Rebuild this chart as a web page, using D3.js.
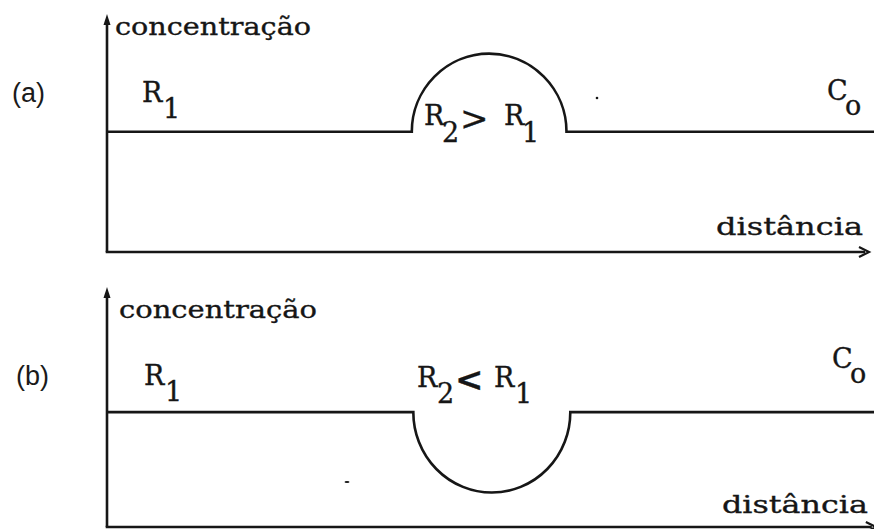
<!DOCTYPE html>
<html>
<head>
<meta charset="utf-8">
<script src="https://cdn.jsdelivr.net/npm/d3@7"></script>
<style>
  html, body { margin: 0; padding: 0; background: #fff; }
  svg { display: block; }
  .lbl { font-family: "DejaVu Serif", "Liberation Serif", serif; fill: #161616; stroke: #161616; stroke-width: 0.35px; }
  .tag { font-family: "Liberation Sans", Arial, sans-serif; fill: #1a1a1a; }
</style>
</head>
<body>
<svg id="chart" width="874" height="529"></svg>
<script>
// Concentration profiles across a region R2 embedded in a medium R1 (C0 = far-field level)
const panelNames = ["(a)", "(b)"];
const relations = [">", "<"];
const baseConc = [1, 1];            // C0 in units of C0
const regionStart = [40.0, 40.2];   // distance where R2 begins
const regionEnd = [60.3, 60.8];     // distance where R2 ends
const regionConc = [1.65, 0.30];    // extreme concentration inside R2
const axisTop = [1.98, 2.09];       // top of the concentration axis
const axisRight = [100, 100.9];     // end of the distance axis
const yLabel = "concentração";
const xLabel = "distância";

const svg = d3.select("#chart");
const ink = "#161616";

// per-panel placement
const panelBottom = [252, 527];
const panelTop = [14, 287];
const L = [
  { tag: [12, 102], yl: [115, 35, 196], xl: [716, 235, 147],
    r1: [142, 102, 163, 118], rel: [424, 125, 442, 142, 460, 130, 504, 125, 522, 142], c0: [827, 100, 845, 115] },
  { tag: [16, 385], yl: [119, 318, 198], xl: [722, 513, 146],
    r1: [144, 385, 165, 401], rel: [417, 387, 437, 403, 455, 391, 494, 387, 515, 403], c0: [832, 368, 850, 383] }
];

function sub(g, main, s, p) {
  const t = g.append("text").attr("class", "lbl").attr("font-size", 27);
  t.append("tspan").attr("x", p[0]).attr("y", p[1]).text(main);
  t.append("tspan").attr("x", p[2]).attr("y", p[3]).text(s);
}

panelNames.forEach((name, i) => {
  const x = d3.scaleLinear().domain([0, 100]).range([107, 869]);
  const y = d3.scaleLinear().domain([0, axisTop[i]]).range([panelBottom[i], panelTop[i]]);
  const g = svg.append("g");
  const l = L[i];

  // axes
  g.append("line")
    .attr("x1", x(0)).attr("y1", y(0)).attr("x2", x(0)).attr("y2", y(axisTop[i]) + 6)
    .attr("stroke", ink).attr("stroke-width", 2.6);
  g.append("line")
    .attr("x1", x(0) - 1.3).attr("y1", y(0)).attr("x2", x(axisRight[i]) - 4).attr("y2", y(0))
    .attr("stroke", ink).attr("stroke-width", 2.6);
  // arrowheads
  const ty = y(axisTop[i]);
  g.append("path")
    .attr("d", `M${x(0)},${ty} L${x(0) - 3.5},${ty + 11} L${x(0) + 3.5},${ty + 11} Z`)
    .attr("fill", ink);
  const tx = x(axisRight[i]);
  g.append("path")
    .attr("d", `M${tx - 10},${y(0) - 5} L${tx},${y(0)} L${tx - 10},${y(0) + 5}`)
    .attr("fill", "none").attr("stroke", ink).attr("stroke-width", 2.2);

  // profile: flat at C0, elliptical excursion across R2
  const x0 = x(regionStart[i]), x1 = x(regionEnd[i]);
  const yb = y(baseConc[i]), ye = y(regionConc[i]);
  const rx = (x1 - x0) / 2, ry = Math.abs(yb - ye);
  const sweep = regionConc[i] > baseConc[i] ? 1 : 0;
  const p = `M${x(0)},${yb} L${x0},${yb} A${rx},${ry} 0 0 ${sweep} ${x1},${yb} L${x(101)},${yb}`;
  g.append("path").attr("d", p).attr("fill", "none")
    .attr("stroke", ink).attr("stroke-width", 2.6);

  // panel tag
  g.append("text").attr("class", "tag")
    .attr("x", l.tag[0]).attr("y", l.tag[1])
    .attr("font-size", 27).text(name);

  // axis titles
  g.append("text").attr("class", "lbl")
    .attr("x", l.yl[0]).attr("y", l.yl[1])
    .attr("font-size", 25).attr("textLength", l.yl[2])
    .attr("lengthAdjust", "spacingAndGlyphs").text(yLabel);
  g.append("text").attr("class", "lbl")
    .attr("x", l.xl[0]).attr("y", l.xl[1])
    .attr("font-size", 25).attr("textLength", l.xl[2])
    .attr("lengthAdjust", "spacingAndGlyphs").text(xLabel);

  // R1 label left of the region
  sub(g, "R", "1", l.r1);

  // R2 ? R1 label
  const r = l.rel;
  sub(g, "R", "2", r.slice(0, 4));
  g.append("text").attr("class", "lbl")
    .attr("x", r[4]).attr("y", r[5])
    .attr("font-family", "DejaVu Sans").attr("font-weight", i === 0 ? "normal" : "bold")
    .attr("font-size", 34).attr("stroke-width", i === 0 ? 0.9 : 1.6)
    .text(relations[i]);
  sub(g, "R", "1", r.slice(6, 10));

  // C0 label at far right
  sub(g, "C", "o", l.c0);
});

// small specks present on the sheet
svg.append("ellipse").attr("cx", 597).attr("cy", 98).attr("rx", 1.3).attr("ry", 1.2).attr("fill", ink);
svg.append("ellipse").attr("cx", 347).attr("cy", 482).attr("rx", 2.5).attr("ry", 1.1).attr("fill", ink);
</script>
</body>
</html>
